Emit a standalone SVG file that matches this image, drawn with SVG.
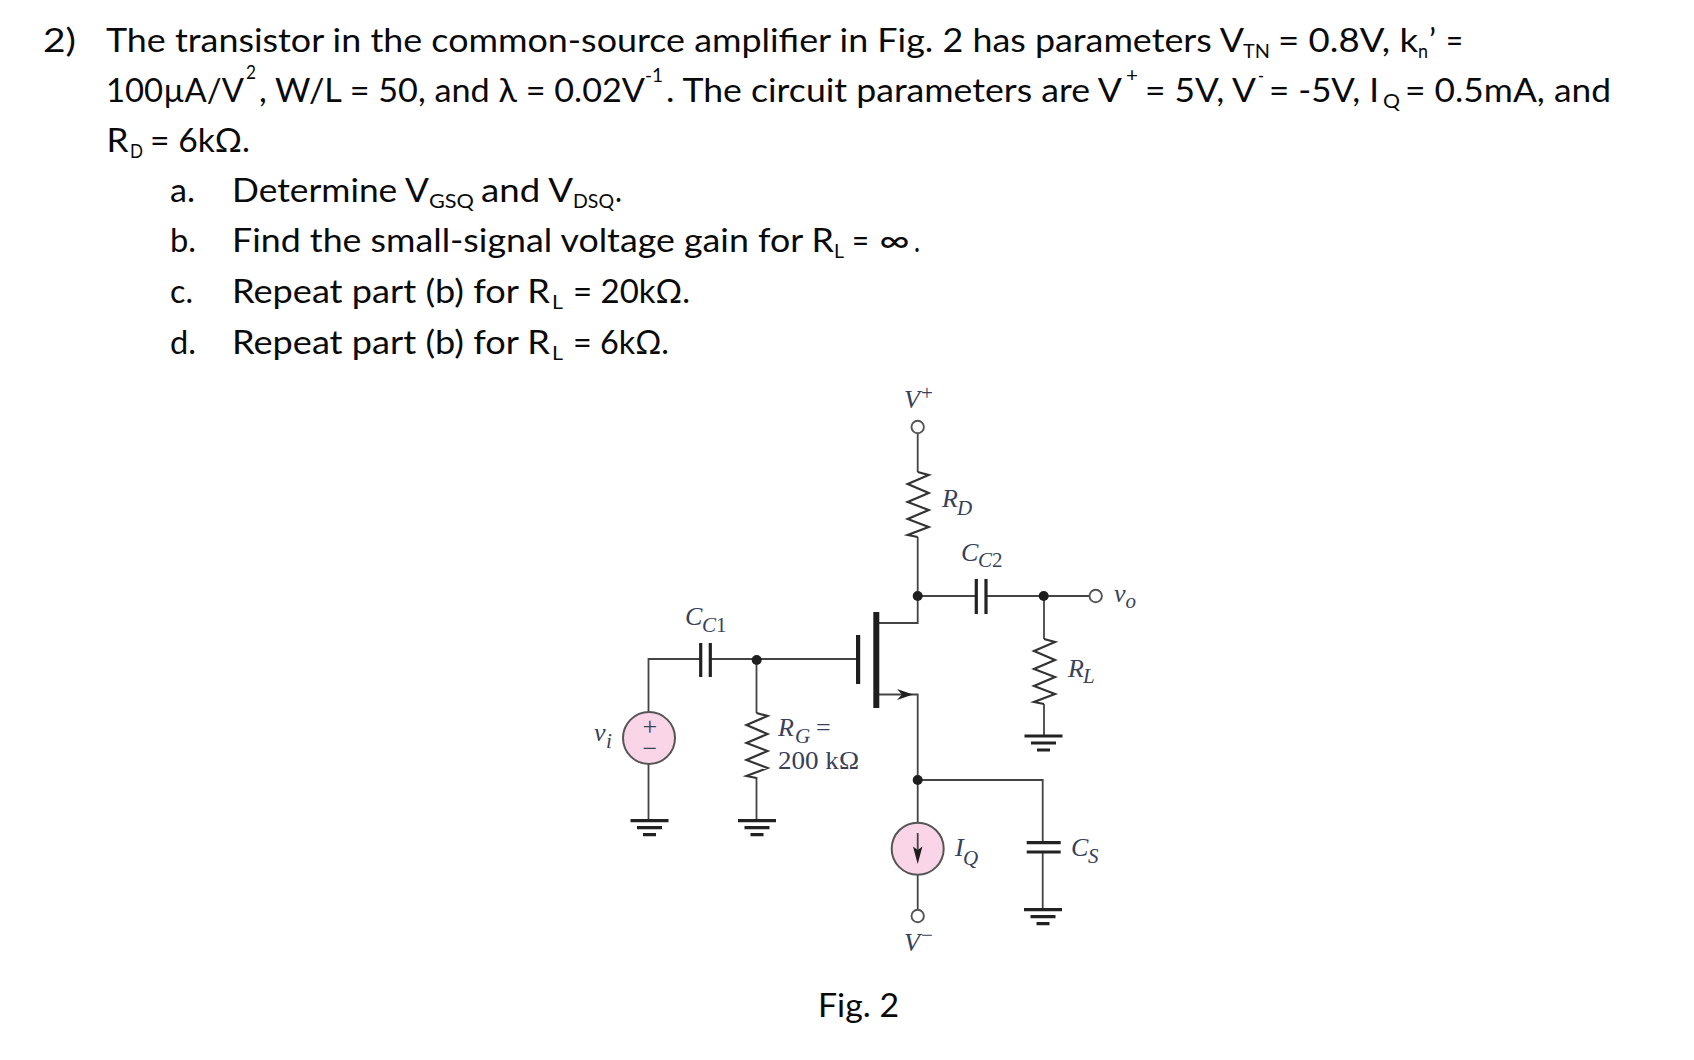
<svg xmlns="http://www.w3.org/2000/svg" width="1694" height="1060" viewBox="0 0 1694 1060">
<style>
.t{font-family:"Lato","Carlito","Noto Sans",sans-serif;font-size:32.5px;fill:#0a0a0a}
.s{font-family:"Lato","Carlito","Noto Sans",sans-serif;font-size:20px;fill:#0a0a0a}
.l{font-family:"Liberation Serif",serif;font-style:italic;font-size:26px;fill:#37415a}
.ls{font-family:"Liberation Serif",serif;font-style:italic;font-size:21px;fill:#37415a}
.u{font-family:"Liberation Serif",serif;font-size:26px;fill:#37415a}
.us{font-family:"Liberation Serif",serif;font-size:21px;fill:#37415a}
.w{fill:none;stroke:#444;stroke-width:1.8}
.z{fill:none;stroke:#333;stroke-width:2.2;stroke-linejoin:miter}
.p{fill:none;stroke:#222;stroke-width:3.2}
.b{fill:#1e1e1e}
.o{fill:#fff;stroke:#555;stroke-width:1.9}
.src{fill:#fad5e7;stroke:#555;stroke-width:2}
</style>
<defs>
<path id="res" class="z" d="M0 0L11 3L-10 12L11 21L-10 30L11 38L-10 47L11 55L-10 63L0 65"/>
<g id="gnd"><path class="p" d="M-19 0H19M-12.5 7H12.5M-6.5 14H6.5"/></g>
<path id="head" class="b" d="M16 0L0 -5.5L5 0L0 5.5Z"/>
</defs>
<rect width="1694" height="1060" fill="#fff"/>

<g id="problem-text">
<text class="t" x="43" y="52" textLength="33" lengthAdjust="spacingAndGlyphs">2)</text>
<text class="t" x="106" y="52" textLength="1138" lengthAdjust="spacingAndGlyphs">The transistor in the common-source amplifier in Fig. 2 has parameters V</text>
<text class="s" x="1243" y="58" textLength="27" lengthAdjust="spacingAndGlyphs">TN</text>
<text class="t" x="1278" y="52" textLength="140" lengthAdjust="spacingAndGlyphs">= 0.8V, k</text>
<text class="s" x="1418" y="58" textLength="10" lengthAdjust="spacingAndGlyphs">n</text>
<text class="t" x="1429" y="52" textLength="7" lengthAdjust="spacingAndGlyphs">’</text>
<text class="t" x="1446" y="52" textLength="17" lengthAdjust="spacingAndGlyphs">=</text>

<text class="t" x="106" y="102" textLength="138" lengthAdjust="spacingAndGlyphs">100µA/V</text>
<text class="s" x="246" y="79" textLength="10" lengthAdjust="spacingAndGlyphs">2</text>
<text class="t" x="259" y="102" textLength="386" lengthAdjust="spacingAndGlyphs">, W/L = 50, and λ = 0.02V</text>
<text class="s" x="645" y="82" textLength="18" lengthAdjust="spacingAndGlyphs">-1</text>
<text class="t" x="666" y="102" textLength="456" lengthAdjust="spacingAndGlyphs">. The circuit parameters are V</text>
<text class="s" x="1126" y="82" textLength="12" lengthAdjust="spacingAndGlyphs">+</text>
<text class="t" x="1145" y="102" textLength="111" lengthAdjust="spacingAndGlyphs">= 5V, V</text>
<text class="s" x="1258" y="82" textLength="6" lengthAdjust="spacingAndGlyphs">-</text>
<text class="t" x="1269" y="102" textLength="110" lengthAdjust="spacingAndGlyphs">= -5V, I</text>
<text class="s" x="1383" y="108" textLength="17" lengthAdjust="spacingAndGlyphs">Q</text>
<text class="t" x="1405" y="102" textLength="206" lengthAdjust="spacingAndGlyphs">= 0.5mA, and</text>

<text class="t" x="106.5" y="152" textLength="22" lengthAdjust="spacingAndGlyphs">R</text>
<text class="s" x="130" y="158" textLength="13" lengthAdjust="spacingAndGlyphs">D</text>
<text class="t" x="150" y="152" textLength="100" lengthAdjust="spacingAndGlyphs">= 6kΩ.</text>

<text class="t" x="170" y="202" textLength="25" lengthAdjust="spacingAndGlyphs">a.</text>
<text class="t" x="232" y="202" textLength="197" lengthAdjust="spacingAndGlyphs">Determine V</text>
<text class="s" x="429" y="208" textLength="45" lengthAdjust="spacingAndGlyphs">GSQ</text>
<text class="t" x="481" y="202" textLength="92" lengthAdjust="spacingAndGlyphs">and V</text>
<text class="s" x="573" y="208" textLength="41" lengthAdjust="spacingAndGlyphs">DSQ</text>
<text class="t" x="615" y="202" textLength="7" lengthAdjust="spacingAndGlyphs">.</text>

<text class="t" x="170" y="252" textLength="26" lengthAdjust="spacingAndGlyphs">b.</text>
<text class="t" x="232" y="252" textLength="602" lengthAdjust="spacingAndGlyphs">Find the small-signal voltage gain for R</text>
<text class="s" x="834" y="258" textLength="10" lengthAdjust="spacingAndGlyphs">L</text>
<text class="t" x="852" y="252" textLength="17" lengthAdjust="spacingAndGlyphs">=</text>
<text class="t" x="879" y="252" textLength="31" lengthAdjust="spacingAndGlyphs">∞</text>
<text class="t" x="914" y="252" textLength="6" lengthAdjust="spacingAndGlyphs">.</text>

<text class="t" x="170" y="303" textLength="23" lengthAdjust="spacingAndGlyphs">c.</text>
<text class="t" x="232" y="303" textLength="318" lengthAdjust="spacingAndGlyphs">Repeat part (b) for R</text>
<text class="s" x="552" y="309" textLength="11" lengthAdjust="spacingAndGlyphs">L</text>
<text class="t" x="573" y="303" textLength="117" lengthAdjust="spacingAndGlyphs">= 20kΩ.</text>

<text class="t" x="170" y="354" textLength="26" lengthAdjust="spacingAndGlyphs">d.</text>
<text class="t" x="232" y="354" textLength="318" lengthAdjust="spacingAndGlyphs">Repeat part (b) for R</text>
<text class="s" x="552" y="360" textLength="11" lengthAdjust="spacingAndGlyphs">L</text>
<text class="t" x="573" y="354" textLength="96" lengthAdjust="spacingAndGlyphs">= 6kΩ.</text>
</g>

<g id="connectors">
<path class="w" d="M917.7 433V472M917.7 537V623H879"/>
<path class="w" d="M917.7 596H976.5M986 596H1089"/>
<path class="w" d="M1044 596V639M1044 704V736"/>
<path class="w" d="M648.5 712V659H700.5M710.5 659H856"/>
<path class="w" d="M756.5 659V713M756.5 777V820"/>
<path class="w" d="M648.5 764V820"/>
<path class="w" d="M879 694.5H917.7V822M917.7 780H1042.7V842.7M1042.7 852V909.7"/>
<path class="w" d="M917.7 875V910"/>
</g>

<g id="mosfet">
<rect class="b" x="873.3" y="612" width="6" height="96"/>
<rect class="b" x="856" y="635" width="4.2" height="49"/>
<use href="#head" x="897" y="694.5"/>
</g>

<g id="vplus"><circle class="o" cx="917.7" cy="427" r="6.2"/>
<text class="l" x="904" y="408">V</text><text class="us" x="921" y="400">+</text></g>
<g id="rd"><use href="#res" x="917.7" y="472"/>
<text class="l" x="942" y="507">R</text><text class="ls" x="957" y="515">D</text></g>
<g id="cc2"><path class="p" d="M976.3 579V614M986 579V614"/>
<text class="l" x="961" y="561">C</text><text class="ls" x="978" y="567">C</text><text class="us" x="992" y="567">2</text></g>
<g id="nodes">
<circle class="b" cx="917.7" cy="596" r="5"/>
<circle class="b" cx="1043.7" cy="596" r="5"/>
<circle class="b" cx="756.7" cy="660" r="5"/>
<circle class="b" cx="917.7" cy="780" r="5"/>
</g>
<g id="vo"><circle class="o" cx="1095.7" cy="596" r="6.2"/>
<text class="l" x="1114" y="602">v</text><text class="ls" x="1125.5" y="608">o</text></g>
<g id="rl"><use href="#res" x="1044" y="639"/><use href="#gnd" x="1043.5" y="736"/>
<text class="l" x="1068" y="677">R</text><text class="ls" x="1083" y="683">L</text></g>
<g id="cc1"><path class="p" d="M700.7 643V677M710.3 643V677"/>
<text class="l" x="685" y="625">C</text><text class="ls" x="702" y="632">C</text><text class="us" x="716" y="632">1</text></g>
<g id="vi"><circle class="src" cx="649" cy="738" r="26"/>
<text class="u" x="642.5" y="735">+</text><text class="u" x="642.5" y="757">−</text>
<use href="#gnd" x="649.5" y="820.7"/>
<text class="l" x="594" y="741">v</text><text class="ls" x="606" y="748">i</text></g>
<g id="rg"><use href="#res" x="756.5" y="713"/><use href="#gnd" x="757" y="820.7"/>
<text class="l" x="778" y="736">R</text><text class="ls" x="795" y="743">G</text><text class="u" x="816" y="736">=</text>
<text class="u" x="778" y="769" textLength="81" lengthAdjust="spacingAndGlyphs">200 kΩ</text></g>
<g id="iq"><circle class="src" cx="917.7" cy="848.7" r="26"/>
<path class="w" d="M917.7 833V850"/>
<path class="b" d="M917.7 864L913 846.5L917.7 850L922.4 846.5Z"/>
<text class="l" x="955" y="856">I</text><text class="ls" x="963" y="865">Q</text></g>
<g id="cs"><path class="p" d="M1026.7 842.7H1060.7M1026.7 852H1060.7"/><use href="#gnd" x="1043" y="909.7"/>
<text class="l" x="1071" y="856">C</text><text class="ls" x="1088" y="863">S</text></g>
<g id="vminus"><circle class="o" cx="917.7" cy="916" r="6.2"/>
<text class="l" x="904" y="951">V</text><text class="us" x="921" y="942">−</text></g>
<g id="caption"><text class="t" x="818" y="1017" textLength="81" lengthAdjust="spacingAndGlyphs">Fig. 2</text></g>
</svg>
